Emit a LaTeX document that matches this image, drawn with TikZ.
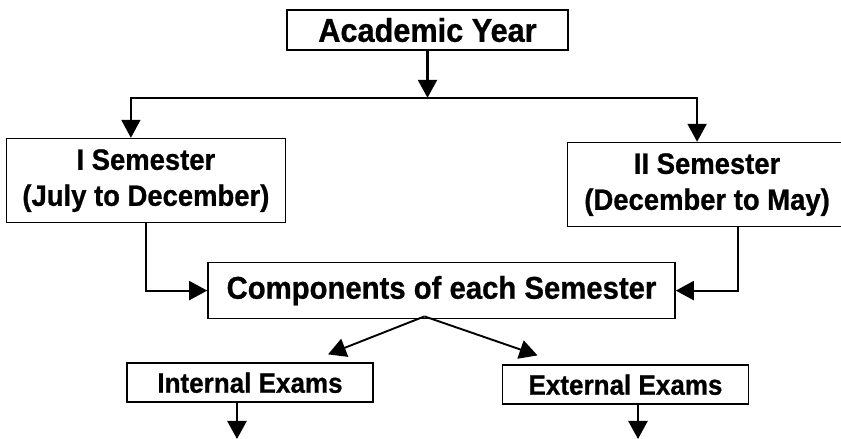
\documentclass[tikz,border=0pt]{standalone}
\usepackage{fontspec}
\setmainfont{Liberation Sans}[FakeStretch=0.93, BoldFeatures={FakeBold=0.8}]
\usetikzlibrary{arrows.meta,positioning}

\begin{document}
\begin{tikzpicture}[
            x=1pt, y=1pt,
            node distance=40pt,
            box/.style={draw, line width=1.6pt, inner sep=0pt, align=center},
            yearbox/.style={box, minimum width=281pt, minimum height=40pt, font=\bfseries\fontsize{33}{38}\selectfont},
            sembox/.style={box, minimum width=279pt, minimum height=84pt, font=\bfseries\fontsize{29.5}{36}\selectfont},
            compbox/.style={box, minimum width=467pt, minimum height=56pt, font=\bfseries\fontsize{31.5}{36}\selectfont},
            exambox/.style={box, minimum width=246pt, minimum height=39pt, font=\bfseries\fontsize{28}{32}\selectfont},
            link/.style={-{Triangle[length=18pt,width=19pt]}, line width=2.5pt}
          ]
          \useasboundingbox (0,0) rectangle (841,439);

          % Nodes from top to bottom
          \node[yearbox] (year) at (427.5,409) {Academic Year};
          \node[sembox, below left=87pt and 0pt of year] (sem1) {I Semester\\(July to December)};
          \node[sembox, below right=91pt and -2pt of year] (sem2) {II Semester\\(December to May)};
          \node[compbox, below=211pt of year, xshift=14pt] (comp) {Components of each Semester};
          \node[exambox, below=43pt of comp, xshift=-191.5pt] (internal) {Internal Exams};
          \node[exambox, below=45pt of comp, xshift=184pt] (external) {External Exams};

          % Helper points
          \coordinate (bottom) at (0,0);
          \coordinate (split) at ([yshift=-47pt]year.south);
          \coordinate (fork) at ([xshift=-17pt,yshift=3pt]comp.south);
          \coordinate (intout) at ([xshift=-13pt]internal.south);
          \coordinate (extout) at ([xshift=12.5pt]external.south);

          % Edges
          \draw[link] (year.south) -- (split);
          \draw[link, line width=2pt] (split) -| ([xshift=-15pt]sem1.north);
          \draw[link, line width=2pt] (split) -| ([xshift=-10pt]sem2.north);
          \draw[link, line width=2pt] (sem1.south) |- (comp.west);
          \draw[link, line width=2pt] ([xshift=31pt]sem2.south) |- (comp.east);
          \draw[link, line width=1.9pt] (fork) -- ([shift={(78pt,8pt)}]internal.north);
          \draw[link, line width=1.9pt] (fork) -- ([shift={(-88pt,9pt)}]external.north);
          \draw[link] (intout) -- (intout |- bottom);
          \draw[link] (extout) -- (extout |- bottom);

        \end{tikzpicture}
\end{document}
